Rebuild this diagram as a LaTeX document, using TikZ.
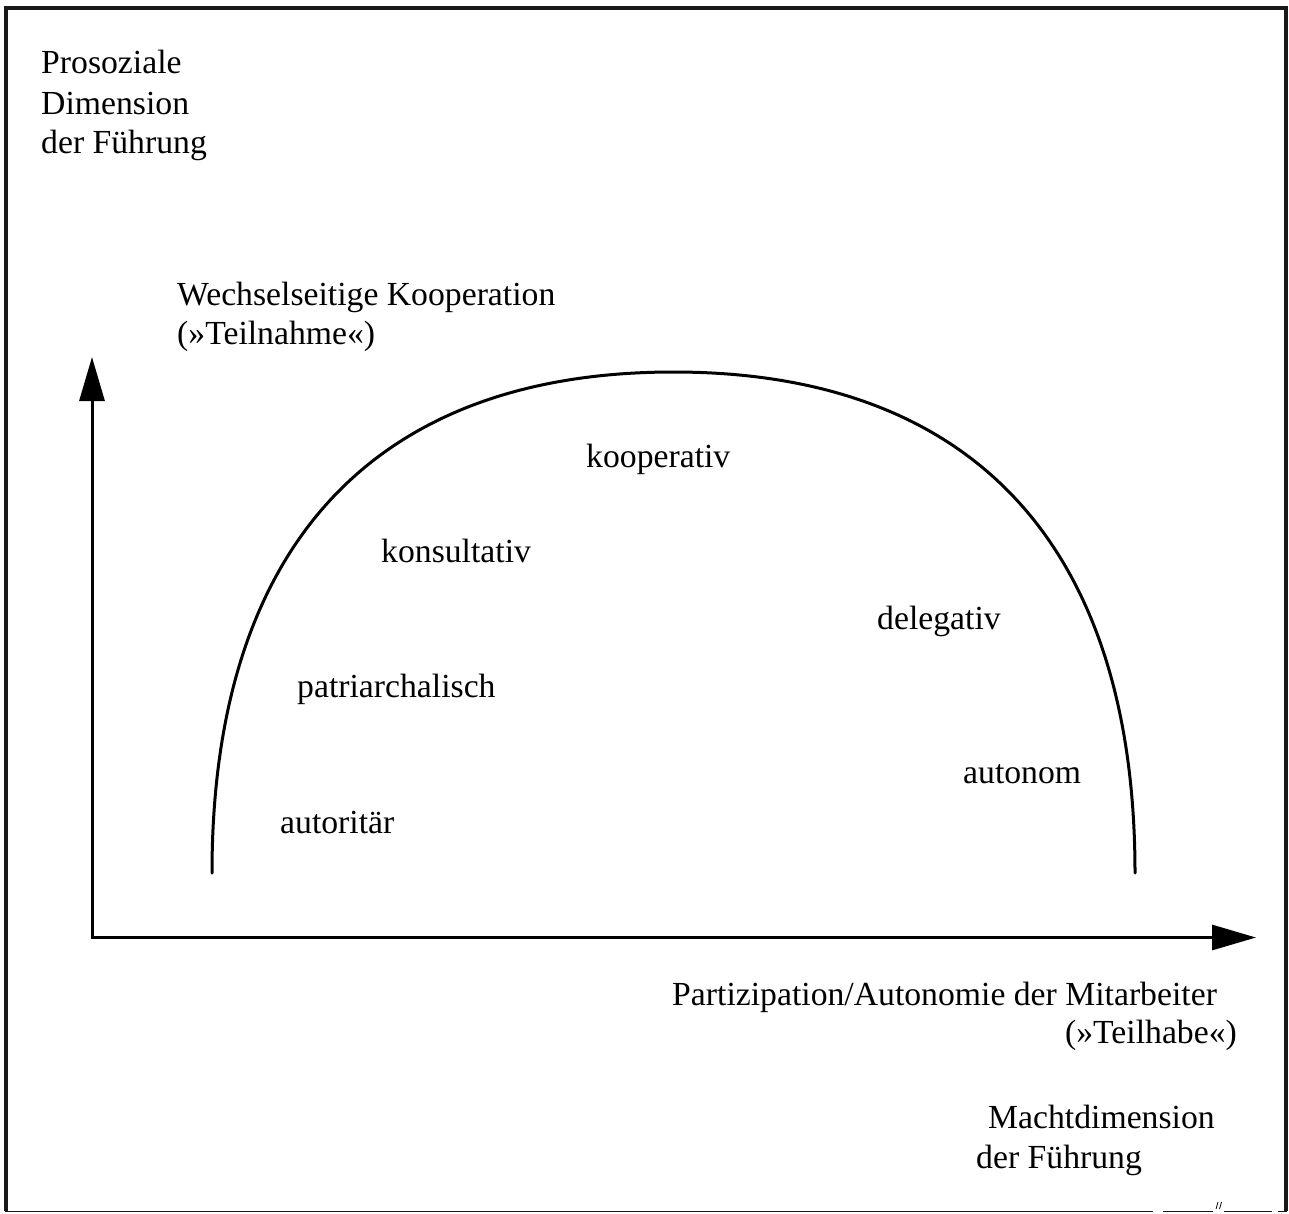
\documentclass[tikz,border=0pt]{standalone}
\usepackage{fontspec}
\setmainfont{Liberation Serif}
\usetikzlibrary{arrows.meta}
\begin{document}
\begin{tikzpicture}[x=1pt,y=-1pt,
  lbl/.style={anchor=base west,inner sep=0pt,font=\fontsize{33.7}{40}\selectfont},
  lblr/.style={lbl,anchor=base east},
  axis/.style={line width=3pt,-{Triangle[length=44pt,width=25pt]}},
  frameline/.style={line width=4pt,black!90},
  curve/.style={line width=3pt,line cap=round}]
\useasboundingbox (0,0) rectangle (1289,1213);

% outer frame
\draw[frameline] (5.5,1211) -- (5.5,8) -- (1286,8) -- (1286,1211);
\draw[line width=1.5pt,black!90] (5,1211.5) -- (1153,1211.5)
  (1163,1211.5) -- (1213,1211.5) (1224,1211.5) -- (1272,1211.5)
  (1278,1211.5) -- (1287,1211.5);
\draw[line width=0.8pt] (1216,1209) -- (1218,1202) (1219.5,1209) -- (1221.5,1202);

% axes
\coordinate (origin) at (92,937.5);
\coordinate (ytip) at (92,357);
\coordinate (xtip) at (1256,937.5);
\draw[axis] ([yshift=1.5pt]origin) -- (ytip);
\draw[axis] ([xshift=-1.5pt]origin) -- (xtip);

% arch of leadership styles
\coordinate (archL) at (212,873);
\coordinate (archTop) at (673.5,372);
\coordinate (archR) at (1135,873);
\draw[curve] (archL) .. controls (212,547) and (373,372) .. (archTop)
  .. controls (974,372) and (1135,547) .. (archR);

% axis titles
\node[lbl] (pro1) at (41,73) {Prosoziale};
\node[lbl] (pro2) at (41,114) {Dimension};
\node[lbl] (pro3) at (41,153) {der Führung};

\node[lbl] (wk1) at (177,305) {Wechselseitige Kooperation};
\node[lbl] (wk2) at (177,344) {(»Teilnahme«)};

\node[lbl] (pa1) at (672,1005) {Partizipation/Autonomie der Mitarbeiter};
\node[lblr] (pa2) at (1237,1043) {(»Teilhabe«)};

\node[lbl] (ma1) at (988,1128) {Machtdimension};
\node[lbl] (ma2) at (976,1168) {der Führung};

% leadership styles
\node[lbl] (koop) at (586,467) {kooperativ};
\node[lbl] (kons) at (381,562) {konsultativ};
\node[lbl] (dele) at (877,629) {delegativ};
\node[lbl] (patr) at (297,697) {patriarchalisch};
\node[lbl] (auto) at (963,783) {autonom};
\node[lbl] (autr) at (280,833) {autoritär};
\end{tikzpicture}
\end{document}
